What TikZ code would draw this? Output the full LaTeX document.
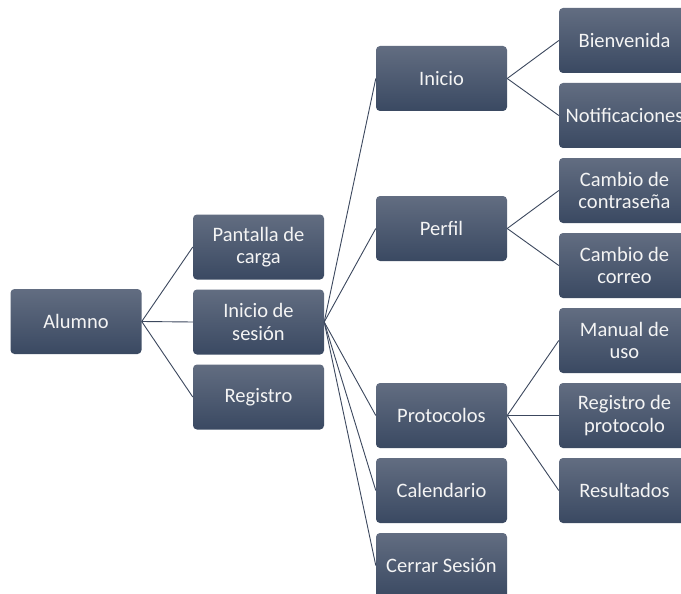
\documentclass[tikz,border=0pt]{standalone}
\usepackage{fontspec}
\setmainfont{Carlito}
\begin{document}
\definecolor{boxtop}{RGB}{98,109,129}
\definecolor{boxbot}{RGB}{58,73,98}
\definecolor{linkcol}{RGB}{60,72,94}
\definecolor{txt}{RGB}{244,244,244}
\begin{tikzpicture}[x=1pt,y=-1pt,
  box/.style={rounded corners=4pt, top color=boxtop, bottom color=boxbot,
    minimum width=131pt, minimum height=65pt, inner sep=0pt, align=center,
    text=txt, font=\fontsize{20.5}{22.5}\selectfont},
  link/.style={draw=linkcol, line width=0.9pt}]
\clip (0,0) rectangle (681,594);
\fill[white] (0,0) rectangle (681,594);
% root
\node[box] (alumno) at (76,321.5) {Alumno};
% first level
\node[box] (pantalla) at (258.5,247) {Pantalla de\\carga};
\node[box] (sesion) at (258.5,322) {Inicio de\\sesión};
\node[box] (registro) at (258.5,397) {Registro};
% second level
\node[box] (inicio) at (441.5,78.5) {Inicio};
\node[box] (perfil) at (441.5,228.5) {Perfil};
\node[box] (protocolos) at (441.5,415.5) {Protocolos};
\node[box] (calendario) at (441.5,490.5) {Calendario};
\node[box] (cerrar) at (441.5,565.5) {Cerrar Sesión};
% third level
\node[box] (bienvenida) at (624.5,40.5) {Bienvenida};
\node[box] (notif) at (624.5,115.5) {Notificaciones};
\node[box] (contra) at (624.5,190.5) {Cambio de\\contraseña};
\node[box] (correo) at (624.5,265.5) {Cambio de\\correo};
\node[box] (manual) at (624.5,340.5) {Manual de\\uso};
\node[box] (regprot) at (624.5,415.5) {Registro de\\protocolo};
\node[box] (result) at (624.5,490.5) {Resultados};
% connectors
\foreach \c in {pantalla,sesion,registro}
  \draw[link] (alumno.east) -- (\c.west);
\foreach \c in {inicio,perfil,protocolos,calendario,cerrar}
  \draw[link] (sesion.east) -- (\c.west);
\foreach \c in {bienvenida,notif}
  \draw[link] (inicio.east) -- (\c.west);
\foreach \c in {contra,correo}
  \draw[link] (perfil.east) -- (\c.west);
\foreach \c in {manual,regprot,result}
  \draw[link] (protocolos.east) -- (\c.west);
\end{tikzpicture}
\end{document}
